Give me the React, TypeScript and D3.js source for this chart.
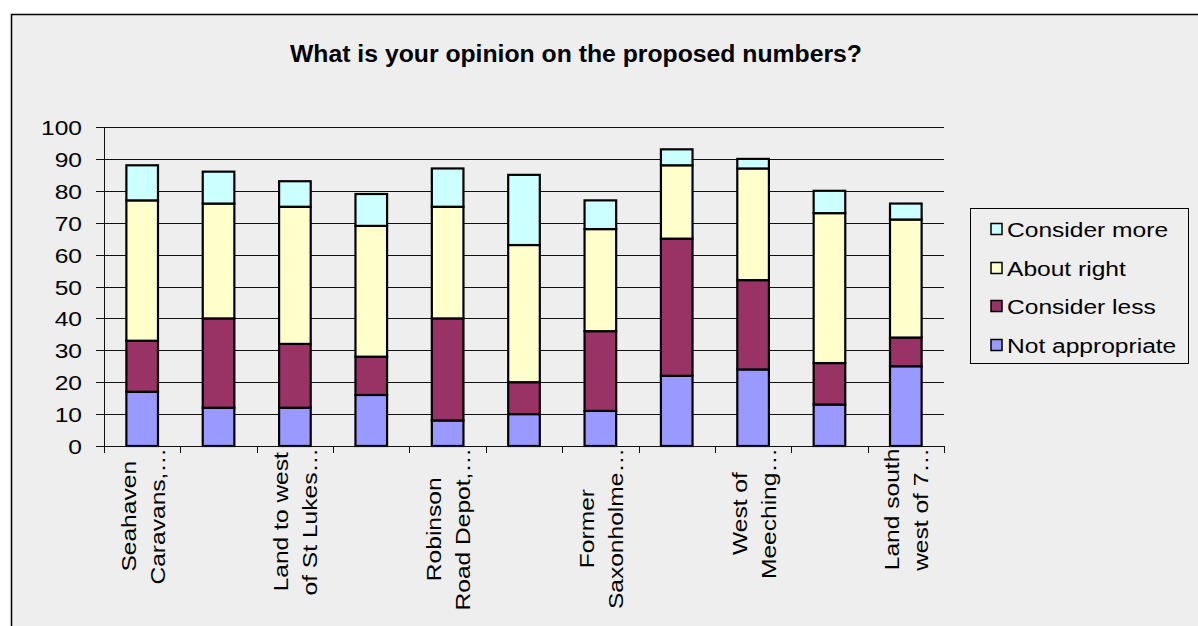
import React from "react";
import * as d3 from "d3";

// ---- data ----
const categoryLabels: string[][] = [
  ["Seahaven", "Caravans,…"],
  [],
  ["Land to west", "of St Lukes…"],
  [],
  ["Robinson", "Road Depot,…"],
  [],
  ["Former", "Saxonholme…"],
  [],
  ["West of", "Meeching…"],
  [],
  ["Land south", "west of 7…"],
];
const seriesNames = ["Not appropriate", "Consider less", "About right", "Consider more"];
const seriesColors = ["#9999ff", "#993366", "#ffffcc", "#ccffff"];
const notAppropriate = [17, 12, 12, 16, 8, 10, 11, 22, 24, 13, 25];
const considerLess = [16, 28, 20, 12, 32, 10, 25, 43, 28, 13, 9];
const aboutRight = [44, 36, 43, 41, 35, 43, 32, 23, 35, 47, 37];
const considerMore = [11, 10, 8, 10, 12, 22, 9, 5, 3, 7, 5];
const yTicks = [0, 10, 20, 30, 40, 50, 60, 70, 80, 90, 100];
const title = "What is your opinion on the proposed numbers?";

// ---- layout ----
const W = 1198;
const H = 626;
const FONT = "'Liberation Sans', Arial, sans-serif";
const FS = 21;
const SX = 1.17;
const plot = { left: 104, right: 944, top: 127, bottom: 446 };

let measureCtx: CanvasRenderingContext2D | null = null;
function textWidth(s: string): number {
  if (!measureCtx) {
    const c = document.createElement("canvas");
    measureCtx = c.getContext("2d");
  }
  if (!measureCtx) return s.length * FS * 0.55;
  measureCtx.font = `${FS}px ${FONT}`;
  return measureCtx.measureText(s).width * SX;
}

export default function App() {
  const idx = categoryLabels.map((_, i) => i);
  const rows = idx.map((i) => ({
    i,
    s0: notAppropriate[i],
    s1: considerLess[i],
    s2: aboutRight[i],
    s3: considerMore[i],
  }));
  const keys = ["s0", "s1", "s2", "s3"];
  const stacked = d3.stack<any>().keys(keys)(rows);

  const x = d3
    .scaleBand<number>()
    .domain(idx)
    .range([plot.left, plot.right])
    .paddingInner(0.586)
    .paddingOuter(0.293);
  const y = d3.scaleLinear().domain([0, 100]).range([plot.bottom, plot.top]);
  const step = (plot.right - plot.left) / idx.length;

  const legendX = 970;
  const legendY = 208;
  const legendW = 218;
  const legendH = 155;
  const legendRowY = [229, 268, 306, 345];
  const legendOrder = [3, 2, 1, 0];

  return (
    <svg
      width={W}
      height={H}
      style={{ position: "absolute", left: 0, top: 0, display: "block" }}
      fontFamily={FONT}
    >
      <rect x={0} y={0} width={W} height={H} fill="#ffffff" />
      <rect x={11.5} y={14.5} width={W + 20} height={H + 20} fill="#eeeeee" stroke="#000" strokeWidth={1.5} />

      {/* title */}
      <text
        x={576}
        y={62}
        textAnchor="middle"
        fontSize={23}
        fontWeight="bold"
        textLength={572}
        lengthAdjust="spacingAndGlyphs"
        fill="#000"
      >
        {title}
      </text>

      {/* gridlines + y ticks */}
      {yTicks.map((t) => {
        const yy = Math.round(y(t)) + 0.5;
        return (
          <g key={t}>
            <line x1={plot.left - 8} x2={plot.right} y1={yy} y2={yy} stroke="#111" strokeWidth={1} shapeRendering="crispEdges" />
            <text
              transform={`translate(${82},${yy + 7.5}) scale(${SX},1)`}
              textAnchor="end"
              fontSize={FS}
              fill="#000"
            >
              {t}
            </text>
          </g>
        );
      })}

      {/* y axis */}
      <line x1={plot.left + 0.5} x2={plot.left + 0.5} y1={plot.top} y2={plot.bottom} stroke="#111" strokeWidth={1} shapeRendering="crispEdges" />

      {/* bars */}
      {stacked.map((layer, li) => (
        <g key={keys[li]}>
          {layer.map((d: any, j: number) => {
            const bx = x(rows[j].i)!;
            const y0 = y(d[0]);
            const y1 = y(d[1]);
            return (
              <rect
                key={j}
                x={bx}
                y={y1}
                width={x.bandwidth()}
                height={y0 - y1}
                fill={seriesColors[li]}
                stroke="#000"
                strokeWidth={2.2}
              />
            );
          })}
        </g>
      ))}

      {/* x axis */}
      <line x1={plot.left} x2={plot.right} y1={plot.bottom + 0.5} y2={plot.bottom + 0.5} stroke="#111" strokeWidth={1} shapeRendering="crispEdges" />
      {d3.range(idx.length + 1).map((k) => {
        const xx = Math.round(plot.left + k * step) + 0.5;
        return (
          <line key={k} x1={xx} x2={xx} y1={plot.bottom} y2={plot.bottom + 7} stroke="#111" strokeWidth={1} shapeRendering="crispEdges" />
        );
      })}

      {/* category labels */}
      {categoryLabels.map((lines, i) => {
        if (!lines.length) return null;
        const cx = x(i)! + x.bandwidth() / 2;
        const maxLen = Math.max(...lines.map(textWidth));
        const cy = 448 + maxLen / 2;
        return (
          <g key={i}>
            {lines.map((ln, li) => {
              const bx = cx + (li - (lines.length - 1) / 2) * 29 + 8;
              return (
                <text
                  key={li}
                  transform={`translate(${bx},${cy}) rotate(-90) scale(${SX},1)`}
                  textAnchor="middle"
                  fontSize={FS}
                  fill="#000"
                >
                  {ln}
                </text>
              );
            })}
          </g>
        );
      })}

      {/* legend */}
      <rect x={legendX + 0.5} y={legendY + 0.5} width={legendW} height={legendH} fill="#eeeeee" stroke="#000" strokeWidth={1} />
      {legendOrder.map((si, r) => {
        const cy = legendRowY[r];
        return (
          <g key={si}>
            <rect x={991} y={cy - 5.5} width={11} height={11} fill={seriesColors[si]} stroke="#000" strokeWidth={1.5} />
            <text
              transform={`translate(${1007},${cy + 7.5}) scale(${SX},1)`}
              fontSize={FS}
              fill="#000"
            >
              {seriesNames[si]}
            </text>
          </g>
        );
      })}
    </svg>
  );
}
